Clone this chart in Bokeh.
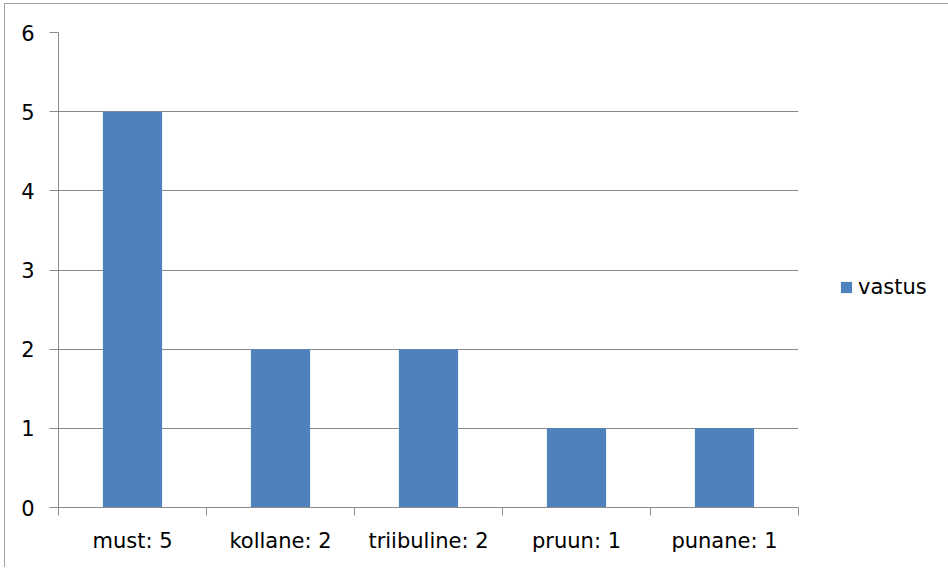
from bokeh.plotting import figure
from bokeh.models import Range1d, FixedTicker, Legend, LegendItem, ColumnDataSource
from bokeh.embed import file_html
from bokeh.resources import INLINE

categories = ["must", "kollane", "triibuline", "pruun", "punane"]
values = [5, 2, 2, 1, 1]
series_name = "vastus"
y_ticks = [0, 1, 2, 3, 4, 5, 6]

FONT = "DejaVu Sans"
GRID = "#8a8a8a"
BAR = "#4F81BD"
FS = "21px"

xs = [i + 0.5 for i in range(len(categories))]
labels = {x: f"{c}: {v}" for x, c, v in zip(xs, categories, values)}
src = ColumnDataSource(dict(x=xs, top=values, cat=categories))

p = figure(frame_width=740, frame_height=475, output_backend="svg", toolbar_location=None,
           x_range=Range1d(0, len(categories)), y_range=Range1d(0, 6),
           min_border_left=53, min_border_right=147, min_border_top=28, min_border_bottom=60,
           styles={"border-left": "1px solid #a0a0a0", "border-top": "1px solid #a0a0a0",
                   "margin": "3px 0 0 4px"})
p.outline_line_color = None
p.background_fill_color = "white"
p.border_fill_color = "white"

r = p.vbar(x="x", top="top", width=0.4, source=src, fill_color=BAR, line_color=None)

# x axis
xa = p.xaxis[0]
xa.ticker = FixedTicker(ticks=xs, minor_ticks=list(range(len(categories) + 1)))
xa.major_label_overrides = labels
xa.major_tick_line_color = None
xa.minor_tick_line_color = GRID
xa.minor_tick_in = 0
xa.minor_tick_out = 8
xa.axis_line_color = GRID
xa.major_label_text_font = FONT
xa.major_label_text_font_size = FS
xa.major_label_text_color = "black"
xa.major_label_standoff = 13

# y axis
ya = p.yaxis[0]
ya.ticker = FixedTicker(ticks=y_ticks)
ya.major_tick_line_color = GRID
ya.major_tick_in = 0
ya.major_tick_out = 9
ya.minor_tick_line_color = None
ya.axis_line_color = GRID
ya.major_label_text_font = FONT
ya.major_label_text_font_size = FS
ya.major_label_text_color = "black"
ya.major_label_standoff = 15

p.xgrid.grid_line_color = None
p.ygrid.ticker = FixedTicker(ticks=y_ticks)
p.ygrid.grid_line_color = GRID

legend = Legend(items=[LegendItem(label=series_name, renderers=[r])],
                location=(41, 208), margin=0, padding=0,
                glyph_width=14, glyph_height=14, label_standoff=5,
                label_text_font=FONT, label_text_font_size=FS,
                label_text_color="black",
                border_line_color=None, background_fill_alpha=0)
p.add_layout(legend, "right")

open("out.html", "w").write(file_html(p, INLINE))
